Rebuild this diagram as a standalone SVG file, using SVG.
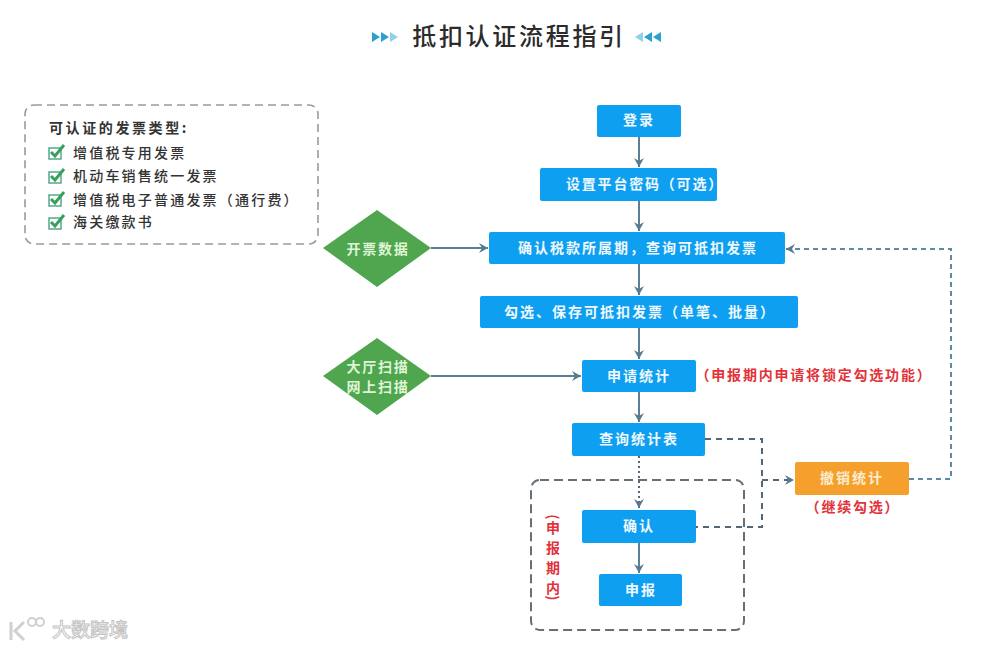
<svg xmlns="http://www.w3.org/2000/svg" width="1001" height="649" viewBox="0 0 1001 649">
<style>
text{font-family:"Noto Sans CJK SC","Noto Sans",sans-serif;font-weight:700;text-anchor:middle}
.b{fill:#0f9ff0}
.t{fill:#eef8ff;font-size:14px;letter-spacing:2px}
.g{fill:#4fa64f}
.d{fill:#dff5d5;font-size:14px;letter-spacing:1.8px}
.r{fill:#e2333a;font-size:14px;letter-spacing:1.8px}
.k{fill:#333;font-size:14px;letter-spacing:2.2px;text-anchor:start;font-weight:500}
.box{fill:none;stroke:#666f76;stroke-width:2;stroke-dasharray:9 5}
.c{fill:none;stroke:#5d7f96;stroke-width:2}
.cd{fill:none;stroke:#54677a;stroke-width:2;stroke-dasharray:6 5}
.cb{fill:none;stroke:#5a8aa5;stroke-width:2;stroke-dasharray:5 4}
.cp{fill:none;stroke:#54677a;stroke-width:2;stroke-dasharray:2 3}
.chk{fill:none;stroke:#3d9a78;stroke-width:1.3}
.tick{fill:none;stroke:#38a05f;stroke-width:3}
</style>
<defs>
<marker id="a" markerWidth="12" markerHeight="12" refX="9" refY="5" orient="auto" markerUnits="userSpaceOnUse"><path d="M0 0L9 5L0 10L3 5Z" fill="#567a92"/></marker>
<g id="ck"><rect x="0" y="3" width="12" height="11" class="chk"/><path d="M2 7L6 11L15 0" class="tick"/></g>
</defs>
<rect width="1001" height="649" fill="#fff"/>

<g id="title">
<path d="M372 32l8 5-8 5zM381 32l8 5-8 5z" fill="#2a9fd0"/><path d="M390 32l8 5-8 5z" fill="#8fd0ea"/>
<path d="M661 32l-8 5 8 5zM652 32l-8 5 8 5z" fill="#2a9fd0"/><path d="M643 32l-8 5 8 5z" fill="#8fd0ea"/>
<text x="519" y="45" font-size="24" fill="#2b2b2b" style="letter-spacing:2.7px;font-weight:500">抵扣认证流程指引</text>
</g>

<g id="connectors">
<path class="c" marker-end="url(#a)" d="M639 137V167"/>
<path class="c" marker-end="url(#a)" d="M639 201V231"/>
<path class="c" marker-end="url(#a)" d="M639 264V295"/>
<path class="c" marker-end="url(#a)" d="M639 328V359"/>
<path class="c" marker-end="url(#a)" d="M639 392V422"/>
<path class="c" marker-end="url(#a)" d="M431 248H488"/>
<path class="c" marker-end="url(#a)" d="M431 376H581"/>
<path class="cp" marker-end="url(#a)" d="M639 456V508"/>
<path class="c" marker-end="url(#a)" d="M639 543V573"/>
<path class="cd" d="M705 439H762V527H696"/>
<path class="cd" marker-end="url(#a)" d="M762 480H794"/>
<path class="cb" marker-end="url(#a)" d="M909 479H951V249H786"/>
</g>

<g id="types">
<rect x="25" y="105" width="293" height="139" rx="9" fill="none" stroke="#9a9a9a" stroke-width="1.6" stroke-dasharray="8 5"/>
<text x="49" y="133" class="k" style="font-weight:700;letter-spacing:2.6px">可认证的发票类型:</text>
<use href="#ck" x="49" y="145"/><text x="73" y="158" class="k">增值税专用发票</text>
<use href="#ck" x="49" y="169"/><text x="73" y="181" class="k">机动车销售统一发票</text>
<use href="#ck" x="49" y="192"/><text x="73" y="205" class="k">增值税电子普通发票（通行费）</text>
<use href="#ck" x="49" y="215"/><text x="73" y="227" class="k">海关缴款书</text>
</g>

<g id="n-login"><rect class="b" x="597" y="105" width="84" height="32" rx="2"/><text class="t" x="639" y="125">登录</text></g>
<g id="n-pwd"><rect class="b" x="540" y="168" width="177" height="33" rx="2"/><text class="t" x="645" y="189" style="letter-spacing:1.8px">设置平台密码（可选）</text></g>
<g id="n-confirm-period"><rect class="b" x="489" y="232" width="296" height="32" rx="2"/><text class="t" x="638" y="253">确认税款所属期，查询可抵扣发票</text></g>
<g id="n-select"><rect class="b" x="480" y="296" width="318" height="32" rx="2"/><text class="t" x="640" y="317">勾选、保存可抵扣发票（单笔、批量）</text></g>
<g id="n-apply"><rect class="b" x="582" y="360" width="114" height="32" rx="2"/><text class="t" x="639" y="381">申请统计</text></g>
<g id="n-query"><rect class="b" x="572" y="423" width="133" height="33" rx="2"/><text class="t" x="639" y="444">查询统计表</text></g>
<g id="n-confirm"><rect class="b" x="582" y="510" width="114" height="33" rx="2"/><text class="t" x="639" y="531">确认</text></g>
<g id="n-report"><rect class="b" x="599" y="574" width="83" height="32" rx="2"/><text class="t" x="641" y="595">申报</text></g>
<g id="n-revoke"><rect x="795" y="462" width="114" height="33" rx="2" fill="#f5a02c"/><text class="t" x="852" y="483" style="fill:#fbeccf">撤销统计</text></g>

<g id="n-invoice"><path class="g" d="M377 210L431 248L377 287L323 248Z"/><text class="d" x="378" y="254">开票数据</text></g>
<g id="n-scan"><path class="g" d="M377 338L431 376L377 415L323 376Z"/><text class="d" x="378" y="372">大厅扫描</text><text class="d" x="378" y="392">网上扫描</text></g>

<g id="period">
<rect class="box" x="531" y="480" width="213" height="150" rx="9"/>
<text class="r" transform="translate(548 517) rotate(90)" style="letter-spacing:0">(</text>
<text class="r" x="554" y="533">申</text>
<text class="r" x="554" y="553">报</text>
<text class="r" x="554" y="573">期</text>
<text class="r" x="554" y="593">内</text>
<text class="r" transform="translate(548 598) rotate(90)" style="letter-spacing:0">)</text>
</g>
<text class="r" x="814" y="380">（申报期内申请将锁定勾选功能）</text>
<text class="r" x="853" y="512">（继续勾选）</text>

<g id="watermark">
<path d="M11 622V640M24 622L15 631L24 640" fill="none" stroke="#d0d0d0" stroke-width="3"/>
<circle cx="32" cy="622" r="4" fill="none" stroke="#d0d0d0" stroke-width="2"/>
<circle cx="40" cy="622" r="4" fill="none" stroke="#d0d0d0" stroke-width="2"/>
<text x="90" y="637" font-size="19" style="fill:#fff;stroke:#c4c4c4;stroke-width:1;font-weight:500">大数跨境</text>
</g>
</svg>
